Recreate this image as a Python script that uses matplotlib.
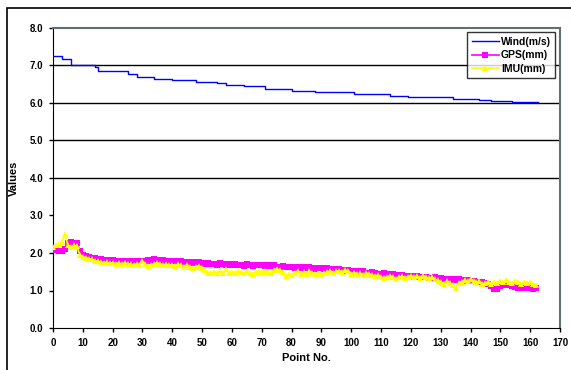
import numpy as np
import matplotlib
matplotlib.use("Agg")
import matplotlib.pyplot as plt
from matplotlib.patches import Rectangle

plt.rcParams["font.family"] = ["Liberation Sans", "DejaVu Sans"]

# wind speed is a step line: change points and levels
WIND_X = [0, 3, 6, 14, 15, 25, 28, 34, 40, 48, 55, 58, 64, 71, 80, 88,
          101, 113, 119, 134, 143, 147, 154, 162.5]
WIND_Y = [7.26, 7.17, 7.01, 6.95, 6.84, 6.77, 6.69, 6.65, 6.62, 6.57, 6.53,
          6.49, 6.44, 6.37, 6.33, 6.28, 6.23, 6.19, 6.16, 6.11, 6.09, 6.06,
          6.02, 6.02]

GPS = [
    2.08, 2.10, 2.06, 2.05, 2.12, 2.28, 2.30, 2.26, 2.28, 2.05,
    1.95, 1.93, 1.90, 1.88, 1.86, 1.84, 1.85, 1.80, 1.82, 1.80,
    1.81, 1.79, 1.80, 1.78, 1.80, 1.78, 1.77, 1.79, 1.76, 1.78,
    1.80, 1.78, 1.82, 1.80, 1.83, 1.81, 1.79, 1.82, 1.78, 1.80,
    1.78, 1.80, 1.76, 1.78, 1.75, 1.77, 1.74, 1.76, 1.73, 1.75,
    1.74, 1.72, 1.73, 1.70, 1.72, 1.68, 1.74, 1.70, 1.69, 1.71,
    1.68, 1.70, 1.67, 1.69, 1.66, 1.70, 1.68, 1.66, 1.69, 1.67,
    1.68, 1.65, 1.67, 1.66, 1.68, 1.64, 1.63, 1.65, 1.62, 1.64,
    1.63, 1.60, 1.62, 1.61, 1.63, 1.59, 1.62, 1.60, 1.58, 1.61,
    1.60, 1.57, 1.59, 1.56, 1.58, 1.55, 1.57, 1.54, 1.53, 1.55,
    1.52, 1.50, 1.52, 1.49, 1.51, 1.48, 1.47, 1.49, 1.46, 1.45,
    1.44, 1.46, 1.43, 1.42, 1.44, 1.41, 1.40, 1.42, 1.39, 1.40,
    1.38, 1.37, 1.39, 1.36, 1.35, 1.37, 1.34, 1.33, 1.35, 1.32,
    1.33, 1.30, 1.32, 1.29, 1.31, 1.28, 1.30, 1.27, 1.26, 1.28,
    1.25, 1.26, 1.23, 1.24, 1.22, 1.20, 1.18, 1.12, 1.05, 1.03,
    1.12, 1.15, 1.18, 1.14, 1.12, 1.10, 1.08, 1.09, 1.06, 1.07,
    1.06, 1.05, 1.06,
]

IMU = [
    2.15, 2.20, 2.25, 2.30, 2.50, 2.20, 2.15, 2.20, 2.18, 1.95,
    1.90, 1.88, 1.85, 1.83, 1.80, 1.78, 1.76, 1.74, 1.75, 1.73,
    1.74, 1.72, 1.73, 1.71, 1.73, 1.72, 1.70, 1.68, 1.71, 1.69,
    1.78, 1.70, 1.66, 1.69, 1.72, 1.74, 1.71, 1.68, 1.70, 1.67,
    1.69, 1.66, 1.70, 1.67, 1.64, 1.68, 1.62, 1.60, 1.64, 1.66,
    1.60, 1.54, 1.48, 1.46, 1.50, 1.47, 1.52, 1.46, 1.58, 1.48,
    1.50, 1.47, 1.52, 1.49, 1.46, 1.51, 1.48, 1.45, 1.50, 1.52,
    1.49, 1.53, 1.50, 1.47, 1.55, 1.58, 1.54, 1.50, 1.40, 1.44,
    1.42, 1.46, 1.52, 1.45, 1.50, 1.43, 1.52, 1.47, 1.44, 1.48,
    1.43, 1.46, 1.50, 1.52, 1.48, 1.51, 1.53, 1.50, 1.55, 1.52,
    1.45, 1.48, 1.44, 1.46, 1.42, 1.47, 1.44, 1.41, 1.38, 1.42,
    1.36, 1.33, 1.37, 1.40, 1.35, 1.32, 1.36, 1.38, 1.34, 1.37,
    1.40, 1.36, 1.38, 1.34, 1.40, 1.36, 1.33, 1.35, 1.30, 1.27,
    1.22, 1.18, 1.26, 1.20, 1.15, 1.08, 1.20, 1.24, 1.28, 1.25,
    1.30, 1.26, 1.22, 1.25, 1.18, 1.20, 1.24, 1.17, 1.22, 1.20,
    1.25, 1.22, 1.28, 1.24, 1.20, 1.26, 1.22, 1.18, 1.24, 1.20,
    1.22, 1.17, 1.15,
]

points = np.arange(len(GPS))

fig = plt.figure(figsize=(5.71, 3.70), dpi=100)
ax = fig.add_axes([53 / 571, 42 / 370, 507 / 571, 300 / 370])

# horizontal grid lines (only the upper ones show in the original)
for yv in [4, 5, 6, 7]:
    ax.axhline(yv, color="black", linewidth=1.0, zorder=1)

ax.plot(WIND_X, WIND_Y, color="#0000FF", linewidth=1.0, drawstyle="steps-post",
        label="Wind(m/s)", zorder=3)
ax.plot(points, GPS, color="#FF00FF", linewidth=1.2, marker="s", markersize=4,
        markeredgewidth=0, label="GPS(mm)", zorder=3)
ax.plot(points, IMU, color="#FFFF00", linewidth=1.2, marker="^", markersize=5,
        markeredgewidth=0, label="IMU(mm)", zorder=4)

ax.set_xlim(0, 170)
ax.set_ylim(0, 8)
ax.set_xticks(range(0, 171, 10))
ax.set_yticks(range(0, 9))
ax.set_yticklabels([f"{v:.1f}" for v in range(0, 9)])

for lbl in ax.get_xticklabels() + ax.get_yticklabels():
    lbl.set_fontweight("bold")
    lbl.set_fontsize(7)
ax.tick_params(axis="both", length=3, width=1, direction="out", pad=4)

ax.spines["left"].set_color("black")
ax.spines["bottom"].set_color("black")
ax.spines["top"].set_color("#607070")
ax.spines["right"].set_color("#607070")
ax.spines["top"].set_linewidth(1.5)
ax.spines["right"].set_linewidth(1.5)

ax.set_xlabel("Point No.", fontsize=8, fontweight="bold", labelpad=4)
ax.set_ylabel("Values", fontsize=8, fontweight="bold", labelpad=8)

leg = ax.legend(loc="upper right", bbox_to_anchor=(0.99, 0.985),
                prop={"size": 7.5, "weight": "bold"}, frameon=True, fancybox=False,
                borderpad=0.4, labelspacing=0.35, handlelength=2.6,
                handletextpad=0.2, borderaxespad=0)
leg.get_frame().set_edgecolor("black")
leg.get_frame().set_linewidth(1.0)

# outer chart frame
fig.patches.append(Rectangle((7 / 571, -0.1), 1.2, 1.1 - 8 / 370,
                             transform=fig.transFigure, fill=False,
                             edgecolor="black", linewidth=1.2))

fig.savefig("out.png", dpi=100)
